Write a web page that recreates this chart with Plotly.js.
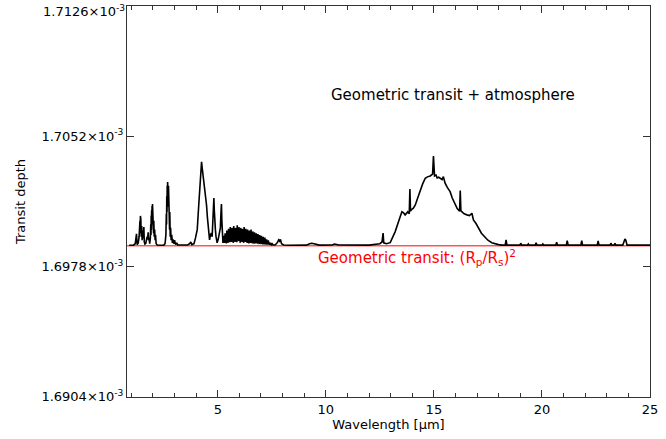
<!DOCTYPE html>
<html>
<head>
<meta charset="utf-8">
<script src="https://cdn.plot.ly/plotly-3.0.1.min.js"></script>
<style>html,body{margin:0;padding:0;background:#fff;}#chart{width:666px;height:439px;}</style>
</head>
<body>
<div id="chart"></div>
<script>
// Spectrum: [wavelength (micron), transit depth (units of 1e-3)]
const nirPoints = [
  [0.90,1.69901],[1.10,1.69902],[1.18,1.69910],[1.24,1.69966],[1.27,1.69905],[1.32,1.69915],[1.36,1.69950],
  [1.38,1.69990],[1.40,1.70040],[1.41,1.69970],[1.42,1.70068],[1.43,1.69990],[1.44,1.70050],[1.46,1.69950],
  [1.48,1.70010],[1.50,1.69930],[1.53,1.69985],[1.55,1.69940],[1.58,1.70005],[1.60,1.69920],[1.63,1.69908],
  [1.67,1.69912],[1.70,1.69925],[1.73,1.69950],[1.75,1.69935],[1.78,1.69975],[1.80,1.69930],[1.82,1.69945],
  [1.85,1.69910],[1.88,1.69940],[1.90,1.70020],[1.91,1.69960],[1.92,1.70070],[1.93,1.69990],[1.94,1.70100],
  [1.95,1.70020],[1.96,1.70125],[1.97,1.70050],[1.98,1.70136],[1.99,1.70060],[2.00,1.70130],[2.01,1.70020],
  [2.02,1.70090],[2.03,1.69970],[2.04,1.70040],[2.06,1.69950],[2.08,1.69990],[2.10,1.69930],[2.12,1.69960],
  [2.15,1.69910],[2.20,1.69903],[2.30,1.69901],[2.50,1.69902],[2.56,1.69910],[2.60,1.69960],[2.62,1.70080],
  [2.63,1.70020],[2.64,1.70180],[2.65,1.70090],[2.66,1.70240],[2.67,1.70150],[2.68,1.70261],[2.69,1.70170],
  [2.70,1.70255],[2.71,1.70120],[2.72,1.70240],[2.73,1.70080],[2.74,1.70210],[2.75,1.70030],[2.76,1.70150],
  [2.77,1.69990],[2.78,1.70090],[2.80,1.69950],[2.82,1.70000],[2.84,1.69930],[2.87,1.69960],[2.90,1.69915],
  [2.93,1.69935],[2.96,1.69910],[3.00,1.69930],[3.05,1.69905],[3.10,1.69915],[3.15,1.69903],[3.40,1.69901],
  [3.60,1.69903],[3.70,1.69910],[3.75,1.69920],[3.80,1.69905],[3.90,1.69910]
];
const co2BandPoints = [
  [3.97,1.69943],[4.05,1.69990],[4.12,1.70130],[4.18,1.70280],[4.22,1.70350],[4.25,1.70375],[4.28,1.70340],
  [4.34,1.70280],[4.40,1.70233],[4.44,1.70180],[4.48,1.70130],[4.52,1.70060],[4.56,1.70005],[4.60,1.69960],
  [4.62,1.69932],[4.66,1.69960],[4.70,1.69970],[4.74,1.69950],[4.78,1.70040],[4.80,1.70150],[4.82,1.70170],
  [4.84,1.70100],[4.86,1.70020],[4.89,1.69990],[4.92,1.69950],[4.95,1.69920],[4.97,1.69915],[5.02,1.69935],
  [5.07,1.69960],[5.12,1.70000],[5.15,1.70090],[5.17,1.70136],[5.19,1.70040],[5.21,1.69960],[5.24,1.69915],
  [5.28,1.69935]
];
const waterBandPoints = [
  [5.30,1.69955],[5.32,1.69915],[5.34,1.69970],[5.36,1.69920],[5.38,1.69960],[5.40,1.69912],[5.42,1.69985],
  [5.44,1.69925],[5.46,1.69970],[5.48,1.69915],[5.50,1.69995],[5.52,1.69930],[5.54,1.69975],[5.56,1.69918],
  [5.58,1.70005],[5.60,1.69935],[5.62,1.69980],[5.64,1.69920],[5.66,1.70000],[5.68,1.69930],[5.70,1.69975],
  [5.72,1.69915],[5.74,1.70010],[5.76,1.69940],[5.78,1.69985],[5.80,1.69920],[5.82,1.70000],[5.84,1.69935],
  [5.86,1.69970],[5.88,1.69918],[5.90,1.70015],[5.92,1.69940],[5.94,1.69980],[5.96,1.69925],[5.98,1.70005],
  [6.00,1.69935],[6.02,1.69975],[6.04,1.69915],[6.06,1.70000],[6.08,1.69930],[6.10,1.69985],[6.12,1.69920],
  [6.14,1.69995],[6.16,1.69935],[6.18,1.69970],[6.20,1.69915],[6.22,1.70005],[6.24,1.69930],[6.26,1.69980],
  [6.28,1.69920],[6.30,1.69995],[6.32,1.69935],[6.34,1.69965],[6.36,1.69915],[6.38,1.69990],[6.40,1.69925],
  [6.42,1.69970],[6.44,1.69912],[6.46,1.69985],[6.48,1.69930],[6.50,1.69960],[6.52,1.69915],[6.54,1.69990],
  [6.56,1.69925],[6.58,1.69965],[6.60,1.69912],[6.62,1.69980],[6.64,1.69930],[6.66,1.69955],[6.68,1.69910],
  [6.70,1.69975],[6.72,1.69920],[6.74,1.69960],[6.76,1.69912],[6.78,1.69970],[6.80,1.69925],[6.82,1.69950],
  [6.84,1.69910],[6.86,1.69965],[6.88,1.69918],[6.90,1.69945],[6.92,1.69908],[6.94,1.69960],[6.96,1.69915],
  [6.98,1.69945],[7.00,1.69908],[7.02,1.69955],[7.04,1.69915],[7.06,1.69940],[7.08,1.69906],[7.10,1.69950],
  [7.12,1.69912],[7.14,1.69935],[7.16,1.69906],[7.18,1.69945],[7.20,1.69910],[7.22,1.69930],[7.24,1.69905],
  [7.26,1.69935],[7.28,1.69908],[7.30,1.69925],[7.32,1.69905],[7.34,1.69930],[7.36,1.69906],[7.38,1.69918],
  [7.40,1.69904],[7.44,1.69915],[7.48,1.69904],[7.52,1.69910],[7.56,1.69903],[7.65,1.69903],[7.75,1.69915],
  [7.82,1.69932],[7.86,1.69925],[7.90,1.69935],[7.95,1.69910],[8.05,1.69903],[8.30,1.69901]
];
const midPoints = [
  [9.10,1.69902],[9.25,1.69910],[9.35,1.69913],[9.45,1.69910],[9.55,1.69905],[9.70,1.69902],[10.30,1.69903],
  [10.40,1.69908],[10.50,1.69906],[10.60,1.69903],[12.00,1.69902],[12.30,1.69905],[12.50,1.69910],[12.60,1.69920],
  [12.65,1.69970],[12.68,1.69915],[12.80,1.69910],[12.98,1.69916]
];
const co2Band15Points = [
  [13.21,1.69979],[13.44,1.70064],[13.52,1.70092],[13.60,1.70085],[13.67,1.70074],[13.79,1.70091],[13.86,1.70080],
  [13.89,1.70221],[13.92,1.70095],[13.95,1.70102],[14.05,1.70112],[14.14,1.70130],[14.25,1.70170],[14.37,1.70216],
  [14.48,1.70250],[14.60,1.70282],[14.70,1.70290],[14.83,1.70295],[14.94,1.70306],[14.98,1.70409],[15.03,1.70295],
  [15.10,1.70300],[15.15,1.70284],[15.22,1.70288],[15.29,1.70282],[15.38,1.70275],[15.44,1.70291],[15.48,1.70265],
  [15.52,1.70254],[15.62,1.70230],[15.75,1.70206],[15.85,1.70170],[15.98,1.70130],[16.08,1.70110],[16.14,1.70102],
  [16.19,1.70095],[16.22,1.70212],[16.25,1.70098],[16.29,1.70092],[16.40,1.70080],[16.53,1.70074],[16.65,1.70070],
  [16.76,1.70083],[16.83,1.70045],[16.95,1.70025],[17.06,1.69998],[17.20,1.69970],[17.37,1.69947],[17.50,1.69930],
  [17.68,1.69916],[17.85,1.69908],[17.99,1.69905],[18.15,1.69902]
];
const farPoints = [
  [18.30,1.69902],[18.34,1.69932],[18.38,1.69902],[18.98,1.69902],[19.02,1.69913],[19.06,1.69902],[19.33,1.69902],
  [19.37,1.69909],[19.41,1.69902],[19.69,1.69902],[19.73,1.69916],[19.77,1.69902],[20.00,1.69902],[20.04,1.69909],
  [20.08,1.69902],[20.64,1.69902],[20.68,1.69919],[20.72,1.69902],[21.13,1.69902],[21.17,1.69928],[21.21,1.69902],
  [21.80,1.69902],[21.84,1.69928],[21.88,1.69902],[22.56,1.69902],[22.60,1.69926],[22.64,1.69902],[23.15,1.69902],
  [23.19,1.69913],[23.23,1.69902],[23.34,1.69902],[23.38,1.69912],[23.42,1.69902],[23.74,1.69902],[23.80,1.69930],
  [23.84,1.69937],[23.88,1.69930],[23.94,1.69902],[24.50,1.69902],[25.00,1.69902]
];
const geometricDepth = 1.69898;
const yTickVals = [1.6904, 1.6978, 1.7052, 1.7126];
const yTickText = ["1.6904×10<sup>-3</sup>", "1.6978×10<sup>-3</sup>", "1.7052×10<sup>-3</sup>", "1.7126×10<sup>-3</sup>"];
const xTickVals = [5, 10, 15, 20, 25];
const xTickText = ["5", "10", "15", "20", "25"];

const allPoints = [].concat(nirPoints, co2BandPoints, waterBandPoints, midPoints, co2Band15Points, farPoints);
const wavelength = allPoints.map(p => p[0]);
const transitDepth = allPoints.map(p => p[1]);

const fontFamily = "DejaVu Sans, sans-serif";

// the topmost label sits at the very top edge of the page; draw it as an annotation nudged down so it is not clipped
const lastTick = yTickVals.length - 1;
const axisTickText = yTickText.map((t, i) => i === lastTick ? '' : t);

const traces = [{
  x: wavelength, y: transitDepth, type: 'scatter', mode: 'lines',
  line: {color: '#000', width: 1.6}, hoverinfo: 'skip', showlegend: false
}];

const layout = {
  width: 666, height: 439,
  margin: {l: 127, r: 16, t: 6, b: 42},
  paper_bgcolor: '#fff', plot_bgcolor: '#fff',
  font: {family: fontFamily, size: 13, color: '#000'},
  showlegend: false,
  xaxis: {
    range: [0.8, 25], showgrid: false, zeroline: false,
    showline: true, linecolor: '#333', linewidth: 1, mirror: 'ticks',
    ticks: 'inside', ticklen: 7, tickcolor: '#333',
    tickvals: xTickVals, ticktext: xTickText,
    minor: {dtick: 1, tick0: 0, ticks: 'inside', ticklen: 4, tickcolor: '#333'},
    tickfont: {family: fontFamily, size: 13},
    title: {text: 'Wavelength [μm]', font: {family: fontFamily, size: 13}, standoff: 4}
  },
  yaxis: {
    range: [1.69039, 1.71261], showgrid: false, zeroline: false,
    showline: true, linecolor: '#333', linewidth: 1, mirror: 'ticks',
    ticks: 'inside', ticklen: 7, tickcolor: '#333',
    tickvals: yTickVals, ticktext: axisTickText,
    tickfont: {family: fontFamily, size: 13},
    title: {text: 'Transit depth', font: {family: fontFamily, size: 13}, standoff: 12}
  },
  shapes: [{
    type: 'line', xref: 'paper', x0: 0, x1: 1, yref: 'y', y0: geometricDepth, y1: geometricDepth,
    line: {color: 'rgb(255,0,0)', width: 1}, layer: 'below'
  }],
  annotations: [
    {x: 0, xref: 'paper', xanchor: 'right', xshift: -1, y: yTickVals[lastTick], yref: 'y', yanchor: 'middle', yshift: -5,
     text: yTickText[lastTick], showarrow: false, borderpad: 0,
     font: {family: fontFamily, size: 13, color: '#000'}},
    {x: 15.9, y: 1.70755, xref: 'x', yref: 'y', text: 'Geometric transit + atmosphere', showarrow: false,
     font: {family: fontFamily, size: 15, color: '#000'}},
    {x: 14.2, y: 1.69830, xref: 'x', yref: 'y', text: 'Geometric transit: (R<sub>p</sub>/R<sub>s</sub>)<sup>2</sup>', showarrow: false,
     font: {family: fontFamily, size: 15, color: 'rgb(255,0,0)'}}
  ]
};

Plotly.newPlot('chart', traces, layout, {displayModeBar: false, staticPlot: true});
</script>
</body>
</html>
